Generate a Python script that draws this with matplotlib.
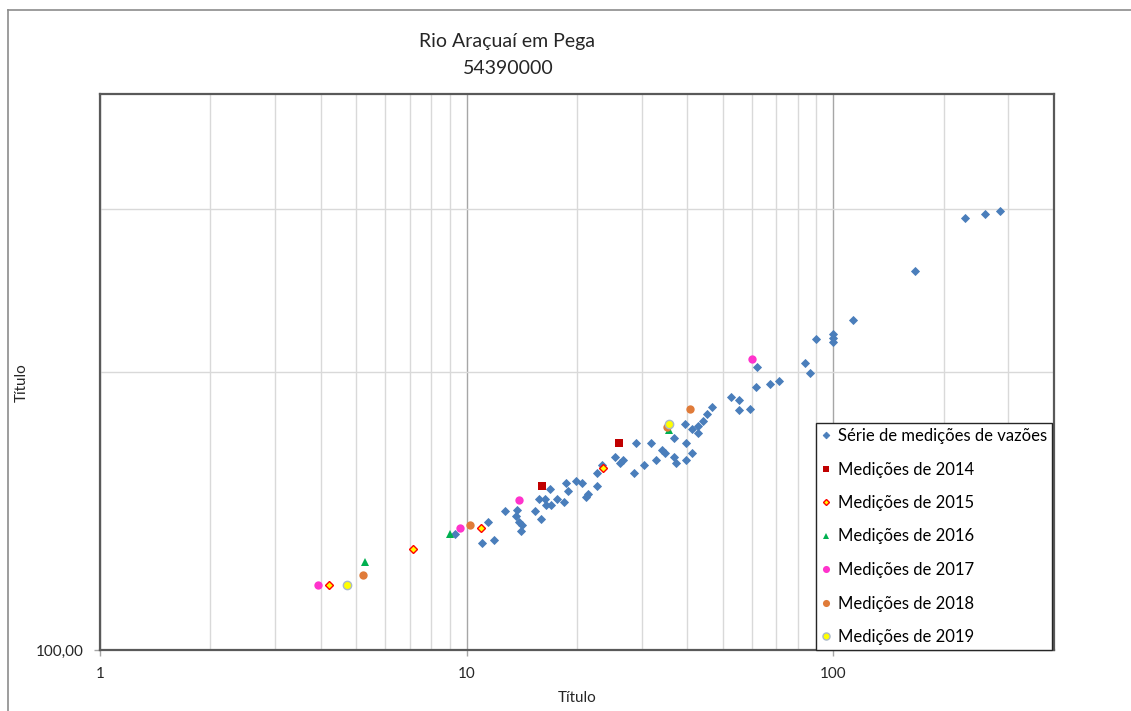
import matplotlib
matplotlib.use("Agg")
import matplotlib.pyplot as plt
from matplotlib.lines import Line2D
from matplotlib.ticker import FixedLocator, NullFormatter, FixedFormatter

plt.rcParams['font.family'] = ['Lato', 'DejaVu Sans']

# Série de medições de vazões (x, y)
serie_x = [9.28, 11.03, 11.43, 11.88, 12.75, 13.75, 13.66, 13.88, 14.18, 14.03,
           15.32, 15.91, 15.74, 16.35, 16.83, 16.42, 17.04, 17.59, 18.41, 18.61,
           18.93, 19.82, 20.58, 21.20, 21.41, 22.65, 22.65, 23.43, 25.32, 26.23,
           26.67, 28.57, 28.93, 30.55, 31.92, 32.88, 34.15, 34.85, 36.88, 36.81,
           37.34, 39.33, 39.58, 39.58, 41.11, 41.21, 42.68, 42.68, 44.05, 45.37,
           46.72, 52.63, 55.35, 55.45, 59.39, 61.56, 61.80, 67.06, 70.97, 83.52,
           86.55, 89.72, 99.56, 99.56, 99.56, 113.2, 167.6, 228.9, 259.6, 285.1]
serie_y = [133.5, 130.5, 137.6, 131.6, 141.5, 141.8, 139.7, 137.7, 136.6, 134.5,
           141.5, 138.6, 145.6, 145.7, 149.5, 143.4, 143.5, 145.6, 144.6, 151.5,
           148.5, 152.5, 151.5, 146.6, 147.5, 150.5, 155.6, 158.6, 161.7, 159.5,
           160.6, 155.6, 167.6, 158.5, 167.6, 160.6, 164.5, 163.6, 169.5, 161.8,
           159.5, 175.5, 167.6, 160.6, 163.6, 173.6, 174.6, 171.6, 177.0, 180.1,
           183.2, 187.8, 186.5, 181.7, 182.6, 192.5, 202.6, 194.1, 195.5, 204.7,
           199.7, 216.9, 219.7, 217.5, 215.5, 227.7, 257.4, 293.4, 296.3, 299.0]

m2014_x = [16.04, 26.00]
m2014_y = [150.6, 167.5]
m2015_x = [4.21, 7.14, 10.92, 23.62]
m2015_y = [117.6, 128.5, 135.6, 157.6]
m2016_x = [5.28, 8.99, 35.73]
m2016_y = [124.5, 133.5, 173.1]
m2017_x = [3.93, 9.61, 13.86, 60.04]
m2017_y = [117.6, 135.6, 145.5, 206.8]
m2018_x = [5.22, 10.23, 35.14, 40.77]
m2018_y = [120.6, 136.6, 174.5, 182.5]
m2019_x = [4.73, 35.58]
m2019_y = [117.6, 175.5]

W, H = 1131, 711
fig = plt.figure(figsize=(W / 100, H / 100), dpi=100)

# chart area border (Excel style)
fig.add_artist(Line2D([8 / W, 8 / W], [0, 1 - 10 / H], transform=fig.transFigure,
                      color='#8c8c8c', lw=1.2))
fig.add_artist(Line2D([8 / W, 1], [1 - 10 / H, 1 - 10 / H], transform=fig.transFigure,
                      color='#8c8c8c', lw=1.2))

ax = fig.add_axes([100 / W, 61 / H, 954 / W, 556 / H])
ax.set_xscale('log')
ax.set_yscale('log')
ax.set_xlim(1, 400)
ax.set_ylim(100, 400)

ax.plot(serie_x, serie_y, 'D', ls='none', color='#4a7ebb', ms=4.0, mew=0.6,
        label='Série de medições de vazões', zorder=3)
ax.plot(m2014_x, m2014_y, 's', ls='none', color='#c00000', ms=5.4, mew=0,
        label='Medições de 2014', zorder=4)
ax.plot(m2015_x, m2015_y, 'D', ls='none', mfc='#ffff00', mec='#ff0000', ms=3.6, mew=1.0,
        label='Medições de 2015', zorder=4)
ax.plot(m2016_x, m2016_y, '^', ls='none', color='#00b050', ms=5.6, mew=0,
        label='Medições de 2016', zorder=4)
ax.plot(m2017_x, m2017_y, 'o', ls='none', color='#ff33cc', ms=6.0, mew=0,
        label='Medições de 2017', zorder=4)
ax.plot(m2018_x, m2018_y, 'o', ls='none', color='#e07b39', ms=6.0, mew=0,
        label='Medições de 2018', zorder=4)
ax.plot(m2019_x, m2019_y, 'o', ls='none', mfc='#ffff00', mec='#a9b8c9', ms=6.0, mew=1.0,
        label='Medições de 2019', zorder=5)

# grid
ax.grid(True, which='major', axis='x', color='#a6a6a6', lw=1.0)
ax.grid(True, which='minor', axis='x', color='#d9d9d9', lw=1.0)
ax.yaxis.set_minor_locator(FixedLocator([200, 300]))
ax.yaxis.set_minor_formatter(NullFormatter())
ax.grid(True, which='minor', axis='y', color='#d9d9d9', lw=1.0)
ax.set_axisbelow(True)

ax.xaxis.set_major_locator(FixedLocator([1, 10, 100]))
ax.xaxis.set_major_formatter(FixedFormatter(['1', '10', '100']))
ax.xaxis.set_minor_formatter(NullFormatter())
ax.yaxis.set_major_locator(FixedLocator([100]))
ax.yaxis.set_major_formatter(FixedFormatter(['100,00']))

ax.tick_params(which='major', length=4, width=1, color='#a6a6a6', labelsize=11,
               labelcolor='#262626', pad=8)
ax.tick_params(which='minor', length=0)

for s in ax.spines.values():
    s.set_color('#595959')
    s.set_linewidth(1.6)

fig.text(507 / W, 1 - 42 / H, 'Rio Araçuaí em Pega', ha='center', va='center',
         fontsize=14, color='#262626')
fig.text(508 / W, 1 - 68 / H, '54390000', ha='center', va='center',
         fontsize=14, color='#262626')
fig.text(577 / W, 1 - 698 / H, 'Título', ha='center', va='center', fontsize=11,
         color='#262626')
fig.text(22 / W, 1 - 383 / H, 'Título', ha='center', va='center', fontsize=11,
         rotation=90, color='#262626')

leg = ax.legend(loc='lower right', bbox_to_anchor=(1052 / W, 61 / H),
                bbox_transform=fig.transFigure, fontsize=12, frameon=True,
                fancybox=False, framealpha=1, edgecolor='#262626',
                borderpad=0.3, labelspacing=1.05, handlelength=0.6,
                handletextpad=0.4, borderaxespad=0, markerscale=0.85)
leg.get_frame().set_linewidth(1.0)
leg.set_zorder(10)

fig.savefig('out.png', dpi=100)
